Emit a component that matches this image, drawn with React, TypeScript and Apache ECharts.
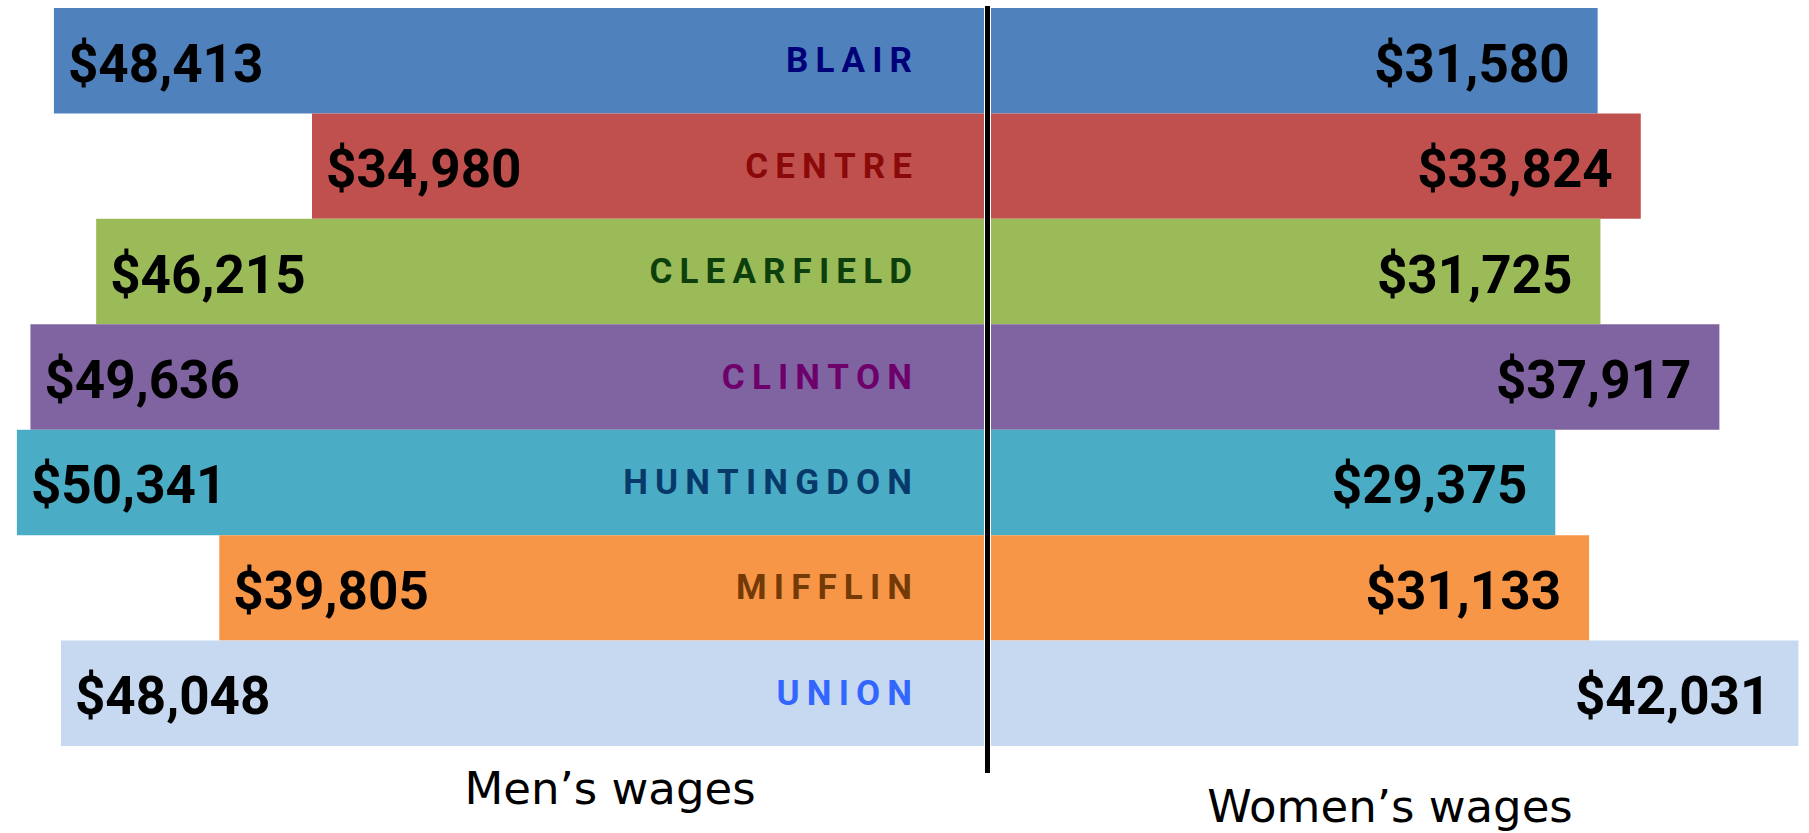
import React, { useEffect, useRef } from "react";
import * as echarts from "echarts";

const counties = ["BLAIR", "CENTRE", "CLEARFIELD", "CLINTON", "HUNTINGDON", "MIFFLIN", "UNION"];
const menWages = [48413, 34980, 46215, 49636, 50341, 39805, 48048];
const womenWages = [31580, 33824, 31725, 37917, 29375, 31133, 42031];
const barColors = ["#4F81BD", "#C0504D", "#9BBB59", "#8064A2", "#4BACC6", "#F79646", "#C6D9F1"];
const nameColors = ["#000078", "#8A0A0A", "#0D3F0D", "#6E006C", "#073A6A", "#733A06", "#3366FF"];
const menTitle = "Men\u2019s wages";
const womenTitle = "Women\u2019s wages";

const fmt = (v: number) => "$" + v.toLocaleString("en-US");

export default function App() {
  const ref = useRef<HTMLDivElement>(null);
  useEffect(() => {
    if (!ref.current) return;
    const chart = echarts.init(ref.current, null, { renderer: "svg" });
    const rich: Record<string, any> = {};
    nameColors.forEach((c, i) => {
      rich["c" + i] = {
        color: c,
        fontFamily: "Roboto",
        fontWeight: "bold",
        fontSize: 35,
      };
    });
    const valueFont = { fontFamily: "Roboto", fontWeight: "bold", fontSize: 53, color: "#000" };
    chart.setOption({
      animation: false,
      backgroundColor: "#fff",
      grid: [
        { left: 0, width: 984, top: 8, height: 738 },
        { left: 991, width: 818, top: 8, height: 738 },
      ],
      xAxis: [
        { type: "value", gridIndex: 0, min: 0, max: 51220, inverse: true, show: false },
        { type: "value", gridIndex: 1, min: 0, max: 42582, show: false },
      ],
      yAxis: [
        {
          type: "category",
          gridIndex: 0,
          data: counties,
          inverse: true,
          position: "right",
          z: 10,
          axisLine: { show: false },
          axisTick: { show: false },
          splitLine: { show: false },
          axisLabel: {
            inside: true,
            margin: 72,
            formatter: (v: string, i: number) => `{c${i}|${v.split("").join("\u2009")}}`,
            rich,
          },
        },
        {
          type: "category",
          gridIndex: 1,
          data: counties,
          inverse: true,
          show: false,
        },
      ],
      series: [
        {
          type: "bar",
          xAxisIndex: 0,
          yAxisIndex: 0,
          data: menWages,
          barCategoryGap: "0%",
          itemStyle: { color: (p: any) => barColors[p.dataIndex] },
          label: {
            show: true,
            position: "insideLeft",
            distance: 14,
            offset: [0, 3],
            formatter: (p: any) => fmt(p.value),
            ...valueFont,
          },
        },
        {
          type: "bar",
          xAxisIndex: 1,
          yAxisIndex: 1,
          data: womenWages,
          barCategoryGap: "0%",
          itemStyle: { color: (p: any) => barColors[p.dataIndex] },
          label: {
            show: true,
            position: "insideRight",
            distance: 28,
            offset: [0, 3],
            formatter: (p: any) => fmt(p.value),
            ...valueFont,
          },
        },
      ],
      graphic: [
        {
          type: "line",
          z: 100,
          shape: { x1: 987.5, y1: 6, x2: 987.5, y2: 773 },
          style: { stroke: "#000", lineWidth: 5 },
        },
        {
          type: "text",
          x: 610,
          y: 788,
          style: {
            text: menTitle,
            fontFamily: "DejaVu Sans",
            fontSize: 45,
            fill: "#000",
            textAlign: "center",
            textVerticalAlign: "middle",
          },
        },
        {
          type: "text",
          x: 1390,
          y: 806,
          style: {
            text: womenTitle,
            fontFamily: "DejaVu Sans",
            fontSize: 45,
            fill: "#000",
            textAlign: "center",
            textVerticalAlign: "middle",
          },
        },
      ],
    });
    return () => chart.dispose();
  }, []);
  return (
    <div
      ref={ref}
      style={{ position: "absolute", left: 0, top: 0, width: 1809, height: 833 }}
    />
  );
}
